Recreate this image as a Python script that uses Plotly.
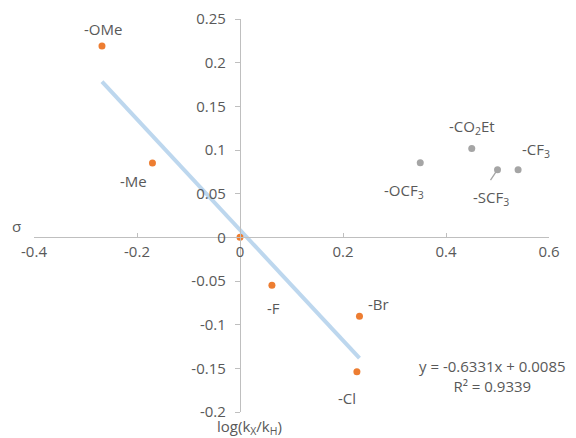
import plotly.graph_objects as go

# Hammett-type data
orange_labels = ["-OMe", "-Me", "", "-F", "-Br", "-Cl"]
orange_x = [-0.268, -0.170, 0.0, 0.062, 0.232, 0.227]
orange_y = [0.219, 0.085, 0.0, -0.055, -0.0905, -0.154]

gray_labels = ["-OCF<sub>3</sub>", "-CO<sub>2</sub>Et", "-SCF<sub>3</sub>", "-CF<sub>3</sub>"]
gray_x = [0.35, 0.45, 0.50, 0.54]
gray_y = [0.0855, 0.1016, 0.0775, 0.0775]

slope = -0.6331
intercept = 0.0085
r2 = 0.9339

x_tickvals = [-0.4, -0.2, 0, 0.2, 0.4, 0.6]
x_ticktext = ["-0.4", "-0.2", "0", "0.2", "0.4", "0.6"]
y_tickvals = [-0.2, -0.15, -0.1, -0.05, 0, 0.05, 0.1, 0.15, 0.2, 0.25]
y_ticktext = ["-0.2", "-0.15", "-0.1", "-0.05", "0", "0.05", "0.1", "0.15", "0.2", "0.25"]

FONT = "Open Sans, Noto Sans, sans-serif"
TXT = "#595959"
AX = "#bfbfbf"
FS = 15

x_min, x_max = -0.4, 0.6
y_min, y_max = -0.2, 0.25

fig = go.Figure()

tx = [min(orange_x), max(orange_x)]
ty = [slope * v + intercept for v in tx]
fig.add_trace(go.Scatter(x=tx, y=ty, mode="lines",
                         line=dict(color="#BDD7EE", width=4), hoverinfo="skip"))
fig.add_trace(go.Scatter(x=orange_x, y=orange_y, mode="markers",
                         marker=dict(color="#ED7D31", size=7)))
fig.add_trace(go.Scatter(x=gray_x, y=gray_y, mode="markers",
                         marker=dict(color="#A5A5A5", size=7)))

# label offsets in pixels (dx, dy)
orange_off = [(1, 17), (-19, -18), (0, 0), (2, -23), (19, 12), (-10, -26)]
gray_off = [(-16, -28), (0, 22), (-7, -28), (18, 20)]
gray_leader = [None, None, (-8, 12), None]

for lab, x, y, off in zip(orange_labels, orange_x, orange_y, orange_off):
    if lab:
        fig.add_annotation(x=x, y=y, text=lab, showarrow=False,
                           xshift=off[0], yshift=off[1],
                           font=dict(family=FONT, size=FS, color=TXT))
for lab, x, y, off, lead in zip(gray_labels, gray_x, gray_y, gray_off, gray_leader):
    fig.add_annotation(x=x, y=y, text=lab, showarrow=False,
                       xshift=off[0], yshift=off[1],
                       font=dict(family=FONT, size=FS, color=TXT))
    if lead is not None:
        fig.add_annotation(x=x, y=y, text="", showarrow=True, arrowhead=0,
                           arrowwidth=1.3, arrowcolor="#A5A5A5", standoff=3,
                           ax=lead[0], ay=lead[1])

eq_text = f"y = {slope:.4f}x + {intercept:.4f}<br>R² = {r2:.4f}"
fig.add_annotation(x=0.891, y=0.092, xref="paper", yref="paper", text=eq_text,
                   showarrow=False, align="center", xanchor="center", yanchor="middle",
                   font=dict(family=FONT, size=FS, color=TXT))

# axis titles
fig.add_annotation(x=x_min, y=0, xref="x", yref="y", text="σ", showarrow=False,
                   xanchor="center", yanchor="middle", xshift=-18, yshift=11,
                   font=dict(family=FONT, size=FS, color=TXT))
fig.add_annotation(x=0, y=y_min, xref="x", yref="y",
                   text="log(k<sub>X</sub>/k<sub>H</sub>)", showarrow=False,
                   xanchor="center", yanchor="top", xshift=9, yshift=-2,
                   font=dict(family=FONT, size=FS, color=TXT))

# page body has an 8px default margin, compensate in plot margins
fig.update_layout(
    width=576, height=438,
    margin=dict(l=26, r=35, t=11, b=34, autoexpand=False),
    paper_bgcolor="white", plot_bgcolor="white",
    showlegend=False,
    font=dict(family=FONT, size=FS, color=TXT),
    xaxis=dict(range=[x_min, x_max], tickvals=x_tickvals, ticktext=x_ticktext,
               showgrid=False, zeroline=False, showline=True, linecolor=AX, linewidth=1.3,
               ticks="inside", ticklen=4, tickcolor=AX, tickwidth=1.3,
               anchor="free", position=(0 - y_min) / (y_max - y_min), automargin=False,
               ticklabelstandoff=1,
               tickfont=dict(family=FONT, size=FS, color=TXT)),
    yaxis=dict(range=[y_min, y_max], tickvals=y_tickvals, ticktext=y_ticktext,
               showgrid=False, zeroline=False, showline=True, linecolor=AX, linewidth=1.3,
               ticks="outside", ticklen=5, tickcolor=AX, tickwidth=1.3,
               anchor="free", position=(0 - x_min) / (x_max - x_min), automargin=False,
               ticklabelstandoff=6,
               tickfont=dict(family=FONT, size=FS, color=TXT)),
)

fig.write_html("out.html")
